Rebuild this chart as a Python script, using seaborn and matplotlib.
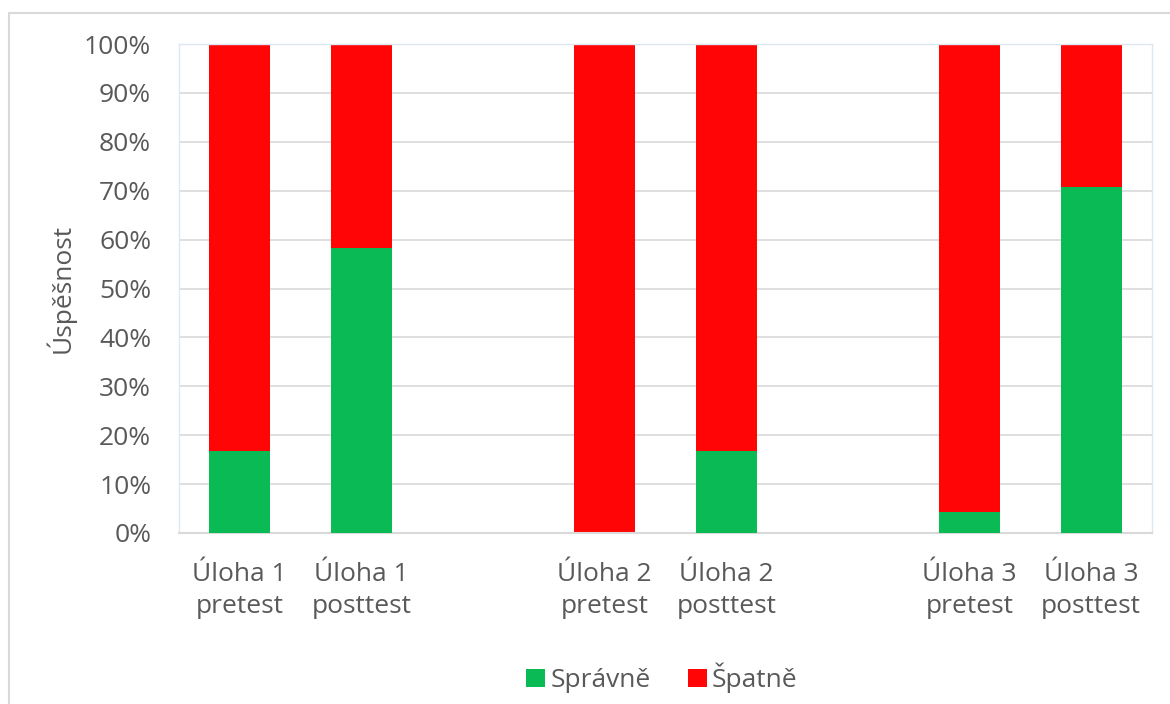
import matplotlib
matplotlib.use("Agg")
import matplotlib.pyplot as plt
import seaborn as sns
import pandas as pd
from matplotlib.patches import Rectangle, Patch

# ---- data ----
categories = ["Úloha 1\npretest", "Úloha 1\nposttest",
              "Úloha 2\npretest", "Úloha 2\nposttest",
              "Úloha 3\npretest", "Úloha 3\nposttest"]
spravne = [16.7, 58.3, 0.0, 16.7, 4.2, 70.8]
spatne = [83.3, 41.7, 100.0, 83.3, 95.8, 29.2]
order = [categories[0], categories[1], " ",
         categories[2], categories[3], "  ",
         categories[4], categories[5]]
series_names = ["Správně", "Špatně"]
yticks = [0, 10, 20, 30, 40, 50, 60, 70, 80, 90, 100]

GREEN = "#0ABB55"
RED = "#FF0505"
TEXT = "#595959"
FS = 19

sns.set_theme(style="white")
plt.rcParams["font.family"] = ["Open Sans", "DejaVu Sans"]

df = pd.DataFrame({"cat": categories, "spravne": spravne, "spatne": spatne})
df["total"] = df["spravne"] + df["spatne"]

fig = plt.figure(figsize=(11.7, 7.04), dpi=100)
ax = fig.add_axes([179/1170, 1-533/704, (1152-179)/1170, (533-44)/704])

sns.barplot(data=df, x="cat", y="total", order=order, color=RED,
            width=0.5, saturation=1, ax=ax, linewidth=0, zorder=2)
sns.barplot(data=df, x="cat", y="spravne", order=order, color=GREEN,
            width=0.5, saturation=1, ax=ax, linewidth=0, zorder=3)

ax.set_ylim(0, 100)
ax.set_xlim(-0.5, len(order) - 0.5)
ax.set_yticks(yticks)
ax.set_yticklabels([f"{v}%" for v in yticks])
ax.yaxis.grid(True, color="#D9D9D9", linewidth=1.2, zorder=0)
ax.set_axisbelow(True)
ax.tick_params(axis="both", length=0, labelsize=FS, labelcolor=TEXT)
ax.tick_params(axis="y", pad=20)
ax.tick_params(axis="x", pad=21)
for lbl in ax.get_xticklabels():
    lbl.set_linespacing(1.36)

ax.set_xlabel("")
ax.set_ylabel("Úspěšnost", fontsize=FS, color=TEXT)
ax.yaxis.set_label_coords((76 - 179) / 973, 0.5)

for side in ["left", "right", "top"]:
    ax.spines[side].set_color("#DCE6F4")
    ax.spines[side].set_linewidth(1.0)
ax.spines["bottom"].set_color("#D9D9D9")
ax.spines["bottom"].set_linewidth(1.5)

handles = [Patch(facecolor=GREEN, edgecolor="none"),
           Patch(facecolor=RED, edgecolor="none")]
fig.legend(handles, series_names, loc="center", bbox_to_anchor=(662/1170, 1-678/704),
           ncol=2, frameon=False, fontsize=FS, labelcolor=TEXT,
           handlelength=0.72, handleheight=0.72, handletextpad=0.2,
           columnspacing=1.4)

# outer chart border
fig.patches.append(Rectangle((9/1170, -0.1), 1.2, 1 - 13/704 + 0.1,
                             transform=fig.transFigure, fill=False,
                             edgecolor="#D9D9D9", linewidth=1.5))

fig.savefig("out.png", dpi=100, facecolor="white")
